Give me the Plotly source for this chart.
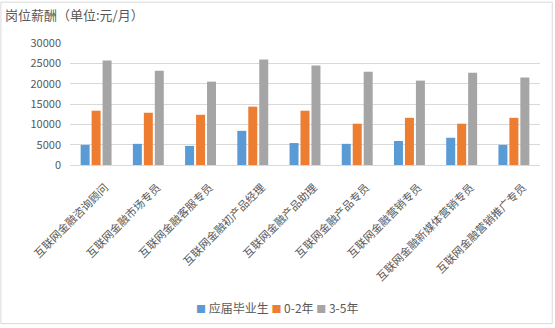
import plotly.graph_objects as go

categories = [
    "互联网金融咨询顾问",
    "互联网金融市场专员",
    "互联网金融客服专员",
    "互联网金融初产品经理",
    "互联网金融产品助理",
    "互联网金融产品专员",
    "互联网金融营销专员",
    "互联网金融新媒体营销专员",
    "互联网金融营销推广专员",
]
series_names = ["应届毕业生", "0-2年", "3-5年"]
fresh_grad = [4950, 5200, 4700, 8400, 5400, 5200, 5900, 6700, 4950]
years_0_2 = [13350, 12850, 12350, 14350, 13350, 10150, 11600, 10150, 11600]
years_3_5 = [25700, 23200, 20500, 25950, 24450, 22950, 20750, 22700, 21500]
y_ticks = [0, 5000, 10000, 15000, 20000, 25000, 30000]

colors = ["#5B9BD5", "#ED7D31", "#A5A5A5"]
text_color = "#595959"
font_family = "Noto Sans CJK SC, Microsoft YaHei, sans-serif"

fig = go.Figure()
for name, vals, col in zip(series_names, [fresh_grad, years_0_2, years_3_5], colors):
    fig.add_trace(go.Bar(x=categories, y=vals, name=name, marker_color=col,
                         marker_line_width=0, showlegend=False))

# compact legend row: coloured square + series name
legend_html = " ".join(
    f"<span style='color:{c};font-size:10px'>■</span> {n}" for n, c in zip(series_names, colors)
)

fig.update_layout(
    width=555, height=328,
    margin=dict(l=70, r=15, t=43, b=163),
    paper_bgcolor="white", plot_bgcolor="white",
    barmode="group", bargap=0.37, bargroupgap=0.18,
    font=dict(family=font_family, color=text_color, size=11),
    annotations=[
        dict(text="岗位薪酬（单位:元/月）", xref="paper", yref="paper",
             x=-0.142, y=1.23, xanchor="left", yanchor="middle",
             showarrow=False, font=dict(size=13, color=text_color)),
        dict(text=legend_html, xref="paper", yref="paper",
             x=0.441, y=-1.17, xanchor="center", yanchor="middle",
             showarrow=False, font=dict(size=12, color=text_color)),
    ],
    shapes=[dict(type="rect", xref="paper", yref="paper",
                 x0=-0.147, x1=1.026, y0=-1.30, y1=1.335,
                 line=dict(color="#D9D9D9", width=1), fillcolor="rgba(0,0,0,0)",
                 layer="below")],
)
fig.update_xaxes(tickangle=-45, showgrid=False, showline=False, ticks="",
                 ticklabelstandoff=13, ticklabelshift=9,
                 tickfont=dict(size=11, color=text_color))
fig.update_yaxes(range=[0, 30000], tickvals=y_ticks, tickformat="d", showgrid=True,
                 gridcolor="#D9D9D9", gridwidth=1, zeroline=True,
                 zerolinecolor="#D9D9D9", zerolinewidth=1, ticks="",
                 ticklabelstandoff=8, tickfont=dict(size=11, color=text_color))

fig.write_html("out.html")
